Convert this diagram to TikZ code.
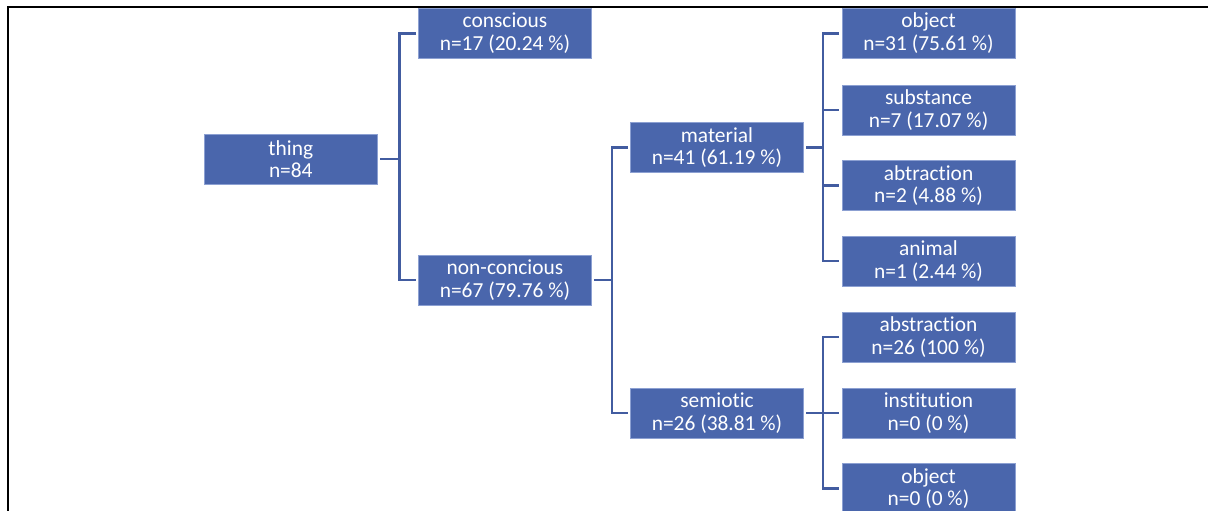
\documentclass[tikz,border=0pt]{standalone}
\usepackage{fontspec}
\setmainfont[Ligatures={NoCommon,NoContextual}]{Carlito}
\definecolor{boxblue}{RGB}{74,102,172}
\definecolor{boxedge}{RGB}{140,160,210}
\definecolor{connblue}{RGB}{66,92,160}
\tikzset{
  box/.style={rectangle, fill=boxblue, draw=boxedge, line width=0.6pt,
    minimum width=173pt, minimum height=50pt, inner sep=0pt, text=white,
    align=center, font=\fontsize{21.4}{22.5}\selectfont},
  conn/.style={draw=connblue, line width=2.6pt, line join=miter},
  frame/.style={draw=black, line width=1.6pt}
}
\begin{document}
\begin{tikzpicture}[x=1pt,y=-1pt]
\useasboundingbox (0,0) rectangle (1208,511);
\clip (0,0) rectangle (1208,511);
\draw[frame] (8,530) -- (8,6.8) -- (1230,6.8);
% nodes
\node[box] (thing) at (290.8,159) {thing\\n=84};
\node[box] (conscious) at (505,33.3) {conscious\\n=17 (20.24 \%)};
\node[box] (noncon) at (505,280) {non-concious\\n=67 (79.76 \%)};
\node[box] (material) at (717,147.5) {material\\n=41 (61.19 \%)};
\node[box] (semiotic) at (717,413) {semiotic\\n=26 (38.81 \%)};
\node[box] (objA) at (928.5,33.3) {object\\n=31 (75.61 \%)};
\node[box] (substance) at (928.5,110) {substance\\n=7 (17.07 \%)};
\node[box] (abtraction) at (928.5,185.5) {abtraction\\n=2 (4.88 \%)};
\node[box] (animal) at (928.5,261) {animal\\n=1 (2.44 \%)};
\node[box] (abstraction) at (928.5,337) {abstraction\\n=26 (100 \%)};
\node[box] (institution) at (928.5,413) {institution\\n=0 (0 \%)};
\node[box] (objB) at (928.5,488.5) {object\\n=0 (0 \%)};
% junctions
\coordinate (j1) at (399.5,159);
\coordinate (j2) at (612,280);
\coordinate (j3) at (823,147.5);
\coordinate (j4) at (823,413);
% connectors
\draw[conn] ([xshift=2.5pt]thing.east) -- (j1);
\draw[conn] ([xshift=-2pt]conscious.west) -| (j1) |- ([xshift=-2pt]noncon.west);
\draw[conn] ([xshift=2.5pt]noncon.east) -- (j2);
\draw[conn] ([xshift=-2.5pt]material.west) -| (j2) |- ([xshift=-2.5pt]semiotic.west);
\draw[conn] ([xshift=2.5pt]material.east) -- (j3);
\draw[conn] ([xshift=-2.5pt]objA.west) -| (j3) |- ([xshift=-2.5pt]animal.west);
\draw[conn] (j3 |- substance.west) -- ([xshift=-2.5pt]substance.west);
\draw[conn] (j3 |- abtraction.west) -- ([xshift=-2.5pt]abtraction.west);
\draw[conn] ([xshift=2.5pt]semiotic.east) -- (j4);
\draw[conn] ([xshift=-2.5pt]abstraction.west) -| (j4) |- ([xshift=-2.5pt]objB.west);
\draw[conn] (j4) -- ([xshift=-2.5pt]institution.west);
\end{tikzpicture}
\end{document}
